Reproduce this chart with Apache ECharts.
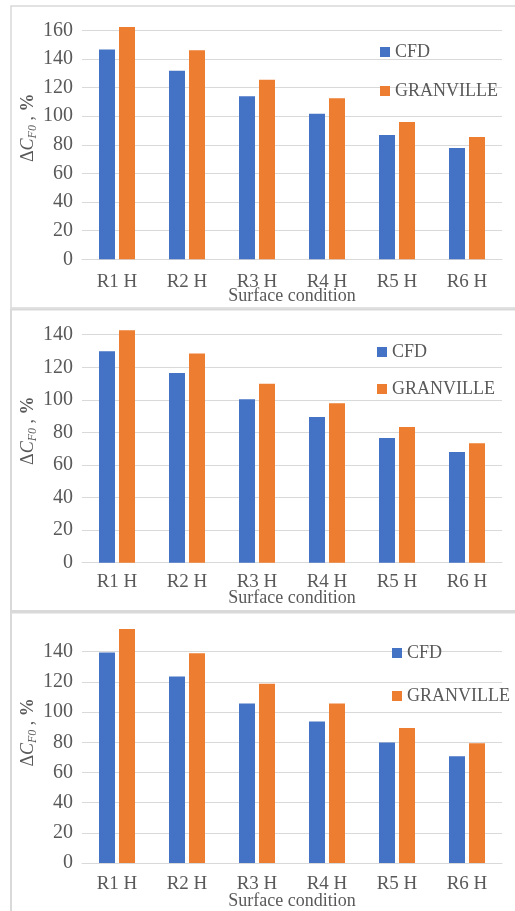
<!DOCTYPE html>
<html>
<head>
<meta charset="utf-8">
<script src="https://cdn.jsdelivr.net/npm/echarts@6/dist/echarts.min.js"></script>
<style>
html,body{margin:0;padding:0;background:#fff;}
#c{width:515px;height:911px;}
</style>
</head>
<body>
<div id="c"></div>
<script>
const categories = ['R1 H', 'R2 H', 'R3 H', 'R4 H', 'R5 H', 'R6 H'];
const seriesNames = ['CFD', 'GRANVILLE'];
const cfd1 = [146.5, 131.8, 113.9, 101.7, 86.9, 77.8];
const gran1 = [162.3, 146.0, 125.5, 112.5, 95.9, 85.5];
const cfd2 = [129.8, 116.5, 100.3, 89.4, 76.5, 68.0];
const gran2 = [142.7, 128.5, 109.9, 97.9, 83.3, 73.3];
const cfd3 = [139.5, 123.5, 105.7, 93.7, 79.9, 70.8];
const gran3 = [155.1, 138.9, 118.7, 105.7, 89.5, 79.4];
const yMax = [160, 140, 140];
const yInterval = 20;
const xTitle = 'Surface condition';

const FONT = '"Liberation Serif", "Times New Roman", serif';
const TXT = '#595959';
const GRID = '#d9d9d9';
const BLUE = '#4472C4';
const ORANGE = '#ED7D31';

const panels = [
  {top: 30.3, height: 229, cfd: cfd1, gran: gran1, max: yMax[0], labelMargin: 13, nameGap: 28, legTop: 38, legLeft: 375, legGap: 21, yPad: 34},
  {top: 334.7, height: 228, cfd: cfd2, gran: gran2, max: yMax[1], labelMargin: 10, nameGap: 27, legTop: 338, legLeft: 372, legGap: 19, yPad: 36},
  {top: 651.7, height: 212.6, cfd: cfd3, gran: gran3, max: yMax[2], labelMargin: 12, nameGap: 29, legTop: 639, legLeft: 387, legGap: 25, yPad: 50}
];

const grid = [], xAxis = [], yAxis = [], series = [], legend = [];
panels.forEach((p, i) => {
  grid.push({left: 82, right: 13, top: p.top, height: p.height, containLabel: false});
  xAxis.push({
    type: 'category', gridIndex: i, data: categories,
    axisLine: {lineStyle: {color: GRID, width: 1}},
    axisTick: {show: false},
    axisLabel: {color: TXT, fontFamily: FONT, fontSize: 19, margin: p.labelMargin},
    name: xTitle, nameLocation: 'middle', nameGap: p.nameGap, nameMoveOverlap: false,
    nameTextStyle: {color: TXT, fontFamily: FONT, fontSize: 18}
  });
  yAxis.push({
    type: 'value', gridIndex: i, min: 0, max: p.max, interval: yInterval,
    axisLine: {show: false}, axisTick: {show: false},
    splitLine: {lineStyle: {color: GRID, width: 1}},
    axisLabel: {color: TXT, fontFamily: FONT, fontSize: 20, margin: 9},
    name: '{d|Δ}{c|C}{s|F0}{n| , }{p|%}',
    nameLocation: 'middle', nameRotate: 90, nameGap: 43, nameMoveOverlap: false,
    nameTextStyle: {
      color: TXT, fontFamily: FONT, fontSize: 18, padding: [0, 0, 0, p.yPad],
      rich: {
        d: {color: TXT, fontFamily: FONT, fontSize: 18},
        c: {color: TXT, fontFamily: FONT, fontSize: 18, fontStyle: 'italic'},
        s: {color: TXT, fontFamily: FONT, fontSize: 12, fontStyle: 'italic', padding: [9, 0, 0, 0]},
        n: {color: TXT, fontFamily: FONT, fontSize: 18},
        p: {color: TXT, fontFamily: FONT, fontSize: 18, fontWeight: 'bold'}
      }
    }
  });
  series.push({
    name: seriesNames[0], type: 'bar', xAxisIndex: i, yAxisIndex: i, data: p.cfd,
    barWidth: 16, barGap: '25%', clip: false, itemStyle: {color: BLUE}, silent: true
  });
  series.push({
    name: seriesNames[1], type: 'bar', xAxisIndex: i, yAxisIndex: i, data: p.gran,
    barWidth: 16, barGap: '25%', clip: false, itemStyle: {color: ORANGE}, silent: true
  });
  legend.push({
    data: seriesNames, orient: 'vertical', left: p.legLeft, top: p.legTop,
    itemWidth: 10, itemHeight: 10, itemGap: p.legGap, icon: 'rect',
    selectedMode: false,
    textStyle: {color: TXT, fontFamily: FONT, fontSize: 18, lineHeight: 18}
  });
});

const chart = echarts.init(document.getElementById('c'), null, {renderer: 'canvas'});
chart.setOption({
  backgroundColor: '#fff',
  animation: false,
  grid, xAxis, yAxis, series, legend,
  graphic: [
    {type: 'rect', shape: {x: 11, y: 6, width: 510, height: 302}, style: {fill: 'none', stroke: GRID, lineWidth: 1.5}, silent: true},
    {type: 'rect', shape: {x: 11, y: 309.5, width: 510, height: 301.5}, style: {fill: 'none', stroke: GRID, lineWidth: 2}, silent: true},
    {type: 'rect', shape: {x: 11, y: 612.5, width: 510, height: 310}, style: {fill: 'none', stroke: GRID, lineWidth: 2}, silent: true}
  ]
});
</script>
</body>
</html>
